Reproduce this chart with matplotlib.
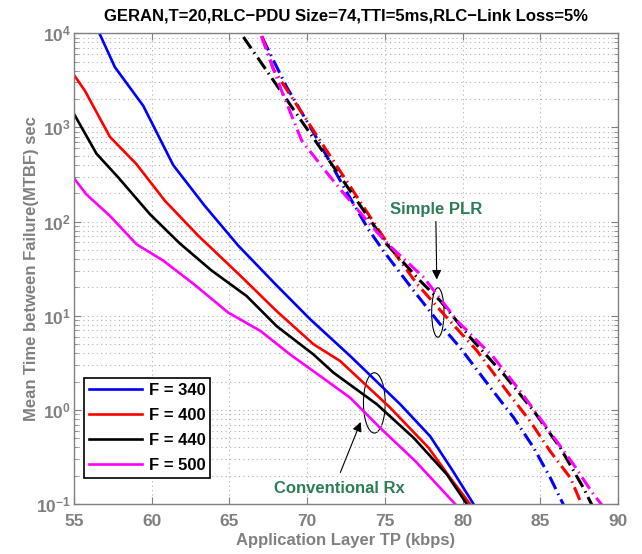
import matplotlib
matplotlib.use('Agg')
import matplotlib.pyplot as plt
import numpy as np
from matplotlib.patches import Ellipse
from matplotlib.ticker import LogLocator, NullFormatter, FixedLocator

plt.rcParams['font.family'] = ['Liberation Sans', 'DejaVu Sans']
plt.rcParams['font.weight'] = 'bold'
plt.rcParams['mathtext.fontset'] = 'custom'
plt.rcParams['mathtext.rm'] = 'Liberation Sans:bold'
plt.rcParams['mathtext.bf'] = 'Liberation Sans:bold'
plt.rcParams['mathtext.default'] = 'bf'

# Conventional Rx (solid)
conv_x_340 = [56.67, 57.64, 59.46, 61.39, 63.4, 65.57, 67.93, 70.19, 72.76, 75.98, 77.91, 79.3, 80.7]
conv_y_340 = [9770, 4365, 1698, 398, 148, 55.6, 21.9, 9.2, 3.75, 1.15, 0.525, 0.234, 0.10]
conv_x_400 = [55.0, 55.71, 57.32, 59.03, 60.86, 63.0, 65.68, 68.04, 70.4, 72.12, 75.33, 77.8, 79.2, 80.48]
conv_y_400 = [3630, 2455, 794, 407, 166, 70.8, 26.9, 11.2, 5.0, 3.31, 1.06, 0.398, 0.19, 0.10]
conv_x_440 = [55.0, 56.46, 57.85, 59.89, 61.8, 63.86, 66.11, 68.04, 70.4, 71.69, 74.48, 76.84, 78.98, 80.27]
conv_y_440 = [1400, 525, 295, 120, 58.9, 30.2, 16.2, 7.76, 3.89, 2.49, 1.15, 0.507, 0.207, 0.10]
conv_x_500 = [55.06, 55.8, 57.32, 59.03, 60.75, 62.68, 64.93, 67.0, 68.9, 71.26, 72.76, 74.69, 76.94, 79.52]
conv_y_500 = [282, 195, 115, 57.5, 38.5, 21.9, 10.8, 6.9, 3.89, 2.04, 1.35, 0.646, 0.288, 0.10]

# Simple PLR (dash-dot), log10 of MTBF
plr_x_340 = [67.12, 68.68, 70.5, 72.55, 73.93, 74.9, 76.83, 78.55, 79.84, 81.77, 83.27, 84.56, 85.63, 86.49]
plr_lg_340 = [3.95, 3.43, 2.92, 2.31, 1.92, 1.69, 1.27, 0.91, 0.66, 0.24, -0.08, -0.40, -0.72, -1.01]
plr_x_400 = [67.1, 67.82, 70.0, 72.5, 75.12, 77.05, 78.98, 80.91, 82.84, 84.34, 85.63, 86.92, 87.67]
plr_lg_400 = [3.97, 3.62, 3.07, 2.44, 1.78, 1.34, 0.98, 0.63, 0.20, -0.12, -0.44, -0.72, -1.01]
plr_x_440 = [65.9, 69.5, 72.0, 75.12, 77.27, 78.55, 80.48, 82.63, 84.56, 86.27, 87.77, 88.31]
plr_lg_440 = [3.96, 3.10, 2.51, 1.76, 1.37, 1.16, 0.77, 0.38, -0.01, -0.40, -0.83, -1.01]
plr_x_500 = [67.05, 68.26, 69.65, 71.26, 72.55, 74.48, 75.33, 77.48, 79.63, 81.98, 83.7, 85.42, 87.13, 88.42, 88.96]
plr_lg_500 = [3.97, 3.43, 2.86, 2.52, 2.26, 1.89, 1.74, 1.41, 0.95, 0.56, 0.20, -0.19, -0.58, -0.90, -1.01]

labels = ['F = 340', 'F = 400', 'F = 440', 'F = 500']
colors = ['#0000ff', '#ff0000', '#000000', '#ff00ff']
gray = '#808080'
green = '#2e7d57'

fig = plt.figure(figsize=(6.42, 5.54), dpi=100)
ax = fig.add_axes([0.115, 0.090, 0.848, 0.850])

conv = [(conv_x_340, conv_y_340), (conv_x_400, conv_y_400),
        (conv_x_440, conv_y_440), (conv_x_500, conv_y_500)]
plr = [(plr_x_340, plr_lg_340), (plr_x_400, plr_lg_400),
       (plr_x_440, plr_lg_440), (plr_x_500, plr_lg_500)]

for (x, y), c, lab in zip(conv, colors, labels):
    ax.plot(x, y, color=c, lw=1.9, label=lab)
for (x, lg), c in zip(plr, colors):
    ax.plot(x, 10 ** np.array(lg), color=c, lw=2.2, linestyle=(0, (4.5, 1.6, 0.5, 1.6)))

ax.set_yscale('log')
ax.set_xlim(55, 90)
ax.set_ylim(0.1, 1e4)
ax.xaxis.set_major_locator(FixedLocator(np.arange(55, 91, 5)))
ax.yaxis.set_major_locator(LogLocator(base=10, numticks=10))
ax.yaxis.set_minor_locator(LogLocator(base=10, subs=np.arange(2, 10), numticks=20))
ax.yaxis.set_minor_formatter(NullFormatter())

ax.grid(True, which='major', axis='both', linestyle=(0, (1, 3)), color='#b0b0b0', lw=0.8)
ax.grid(True, which='minor', axis='y', linestyle=(0, (1, 3)), color='#b0b0b0', lw=0.8)
ax.tick_params(which='both', direction='in', top=True, right=True, colors=gray, labelsize=12.5)
ax.tick_params(which='major', length=5)
ax.tick_params(which='minor', length=3)
ax.tick_params(axis='x', pad=7)
ax.tick_params(axis='y', pad=2)
for s in ax.spines.values():
    s.set_color(gray)
    s.set_linewidth(1.0)
for t in ax.get_xticklabels() + ax.get_yticklabels():
    t.set_fontweight('bold')

ax.set_xlabel('Application Layer TP (kbps)', fontsize=12, color=gray, fontweight='bold', labelpad=3)
ax.set_ylabel('Mean Time between Failure(MTBF) sec', fontsize=12, color=gray, fontweight='bold', labelpad=-2)
ax.set_title('GERAN,T=20,RLC\u2212PDU Size=74,TTI=5ms,RLC\u2212Link Loss=5%',
             fontsize=12, fontweight='bold', pad=9)

leg = ax.legend(loc='lower left', bbox_to_anchor=(0.018, 0.055), borderaxespad=0,
                prop={'size': 12, 'weight': 'bold'}, fancybox=False, framealpha=1,
                edgecolor='black', handlelength=3.2, handletextpad=0.4,
                labelspacing=0.6, borderpad=0.3)
leg.get_frame().set_linewidth(1.2)

# annotations
ax.text(0.665, 0.625, 'Simple PLR', transform=ax.transAxes, ha='center', va='center',
        fontsize=12, fontweight='bold', color=green)
ax.annotate('', xy=(0.6667, 0.471), xytext=(0.665, 0.606), xycoords='axes fraction',
            arrowprops=dict(arrowstyle='-|>', color='black', lw=0.8, mutation_scale=14))
ax.add_patch(Ellipse((0.6686, 0.407), 0.0226, 0.105, transform=ax.transAxes,
                     fill=False, ec='black', lw=0.8))

ax.text(0.488, 0.034, 'Conventional Rx', transform=ax.transAxes, ha='center', va='center',
        fontsize=12, fontweight='bold', color=green)
ax.annotate('', xy=(0.5288, 0.180), xytext=(0.4876, 0.0617), xycoords='axes fraction',
            arrowprops=dict(arrowstyle='-|>', color='black', lw=0.8, mutation_scale=14))
ax.add_patch(Ellipse((0.552, 0.215), 0.040, 0.128, transform=ax.transAxes,
                     fill=False, ec='black', lw=0.8))

fig.savefig('out.png', dpi=100)
